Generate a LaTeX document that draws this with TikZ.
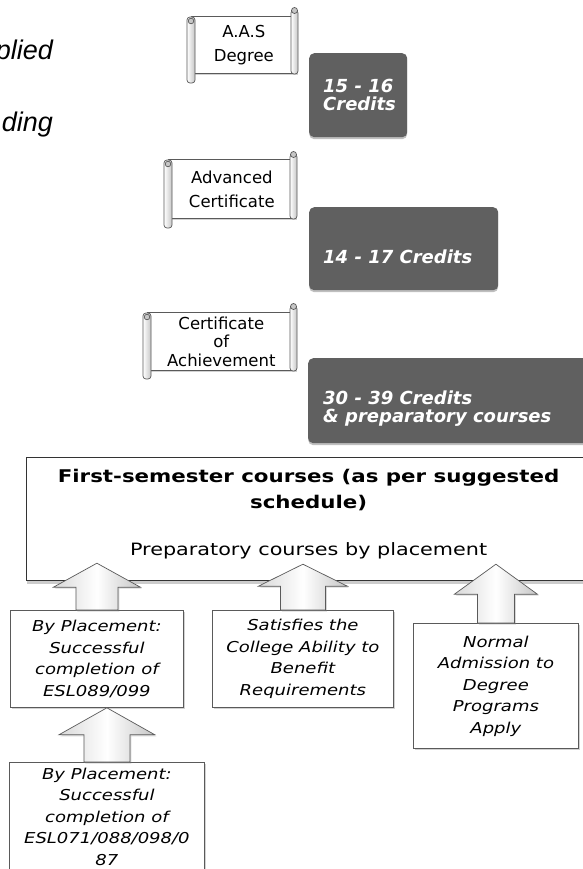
\documentclass[tikz,border=0pt]{standalone}
\usepackage{fontspec}
\setmainfont{DejaVu Sans}
\newfontfamily\vsans{DejaVu Sans}
\newfontfamily\wsans[FakeStretch=1.22]{DejaVu Sans}
\newfontfamily\lsans[FakeStretch=1.2]{DejaVu Sans}
\newfontfamily\arialf{Liberation Sans}
\usetikzlibrary{shadows,calc}
\definecolor{darkfill}{RGB}{96,96,96}
\definecolor{lineg}{RGB}{90,90,90}
\tikzset{
  scrollline/.style={draw=lineg, line width=0.7pt},
  scrollbody/.style={scrollline, fill=white, inner sep=0pt, align=center,
    drop shadow={shadow xshift=1.5pt, shadow yshift=-1.5pt, opacity=0.35}},
  tube/.style={scrollline, left color=white, right color=gray!45, rounded corners=3pt},
  knob/.style={scrollline, fill=gray!45},
  darkbox/.style={fill=darkfill, rounded corners=5pt, inner sep=0pt,
    drop shadow={shadow xshift=0pt, shadow yshift=-2pt, opacity=0.5}},
  darktext/.style={text=white, font=\vsans\bfseries\itshape\fontsize{18}{18.5}\selectfont,
    align=left, inner sep=0pt},
  mainbox/.style={draw=black!80, line width=1.2pt, fill=white, inner sep=0pt, align=center,
    font=\fontsize{17}{26}\selectfont,
    drop shadow={shadow xshift=0pt, shadow yshift=-3pt, opacity=0.4}},
  lowbox/.style={draw=lineg, line width=0.8pt, fill=white, inner sep=0pt, align=center,
    font=\lsans\itshape\fontsize{15}{21.5}\selectfont,
    drop shadow={shadow xshift=2pt, shadow yshift=-2pt, opacity=0.35}},
  blockarrow/.style={draw=lineg, line width=0.7pt, left color=gray!30, right color=gray!45,
    middle color=white, drop shadow={shadow xshift=1.5pt, shadow yshift=-1.5pt, opacity=0.3}},
  lefttext/.style={font=\arialf\itshape\fontsize{27}{30}\selectfont, inner sep=0pt, anchor=base east},
}
% #1 name, #2 L, #3 T, #4 R, #5 B, #6 roll bottom, #7 curl top, #8 font, #9 text
\newcommand\scrollbox[9]{%
  \node[scrollbody, font=\vsans#8, minimum width=#4-#2-6, minimum height=#5-#3,
        anchor=north west] (#1) at (#2+4,#3) {#9};
  \draw[tube] (#4-7,#7+3) rectangle (#4,#5+1);
  \draw[knob] (#4-3.5,#7+3.5) circle (3pt);
  \draw[tube] (#2,#3+1) rectangle (#2+8,#6);
  \draw[knob] (#2+4,#3+5) circle (2.8pt);
}
% #1 source, #2 target, #3 rise of tip above target bottom, #4 head length, #5 head half width, #6 shaft half width
\newcommand\blockup[6]{%
  \path[blockarrow] let \p1=(#1.north), \p2=(#2.south) in
    (\x1-#6pt,\y1) -- (\x1-#6pt,\y2+#3pt-#4pt) -- (\x1-#5pt,\y2+#3pt-#4pt)
    -- (\x1,\y2+#3pt) -- (\x1+#5pt,\y2+#3pt-#4pt) -- (\x1+#6pt,\y2+#3pt-#4pt)
    -- (\x1+#6pt,\y1) -- cycle;
}
\begin{document}
\begin{tikzpicture}[x=1pt,y=-1pt]
\fill[white] (0,0) rectangle (582,869);
\useasboundingbox (0,0) rectangle (582,869);

\node[lefttext] (lt1) at (53,60) {plied};
\node[lefttext] (lt2) at (53,132) {ding};

\scrollbox{s1}{187}{16}{298}{73}{83}{7}{\fontsize{16.5}{24}\selectfont}{A.A.S\\Degree}
\scrollbox{s2}{164}{159}{297}{218}{228}{151}{\fontsize{16.5}{24}\selectfont}{Advanced\\Certificate}
\scrollbox{s3}{143}{312}{297}{370}{379}{303}{\fontsize{16.5}{18.5}\selectfont}{Certificate\\of\\Achievement}

\node[darkbox, minimum width=98, minimum height=84, anchor=north west] (d1) at (309,53) {};
\node[darktext, anchor=west] (t1) at ([xshift=14pt]d1.west) {15 - 16\\Credits};
\node[darkbox, minimum width=189, minimum height=83, anchor=north west] (d2) at (309,207) {};
\node[darktext, anchor=west] (t2) at ([xshift=14pt,yshift=-8pt]d2.west) {14 - 17 Credits};
\node[darkbox, minimum width=285, minimum height=85, anchor=north west] (d3) at (308,358) {};
\node[darktext, anchor=west] (t3) at ([xshift=15pt,yshift=-8pt]d3.west) {30 - 39 Credits\\\& preparatory courses};

\node[mainbox, minimum width=564, minimum height=123, anchor=north west] (main) at (26,457)
  {{\wsans\bfseries\fontsize{17.5}{26}\selectfont First-semester courses (as per suggested}\\
   {\wsans\bfseries\fontsize{17.5}{26}\selectfont schedule)}\\[21pt]
   {\wsans\fontsize{17}{26}\selectfont Preparatory courses by placement}\rule[-13.5pt]{0pt}{1pt}};

\node[lowbox, minimum width=173, minimum height=97, anchor=north west] (b1) at (10,610)
  {By Placement:\\Successful\\completion of\\ESL089/099};
\node[lowbox, minimum width=181, minimum height=97, anchor=north west] (b2) at (212,610)
  {Satisfies the\\College Ability to\\Benefit\\Requirements};
\node[lowbox, minimum width=165, minimum height=125, anchor=north west] (b3) at (413,623)
  {Normal\\Admission to\\Degree\\Programs\\Apply};
\node[lowbox, minimum width=195, minimum height=108, anchor=north west] (b4) at (9,762)
  {By Placement:\\Successful\\completion of\\ESL071/088/098/0\\87};

\blockup{b1}{main}{18}{24}{43.5}{21}
\blockup{b2}{main}{17}{22}{44.5}{22.5}
\blockup{b3}{main}{17}{30}{41.5}{18.5}
\blockup{b4}{b1}{0}{27}{48}{23}
\end{tikzpicture}
\end{document}
